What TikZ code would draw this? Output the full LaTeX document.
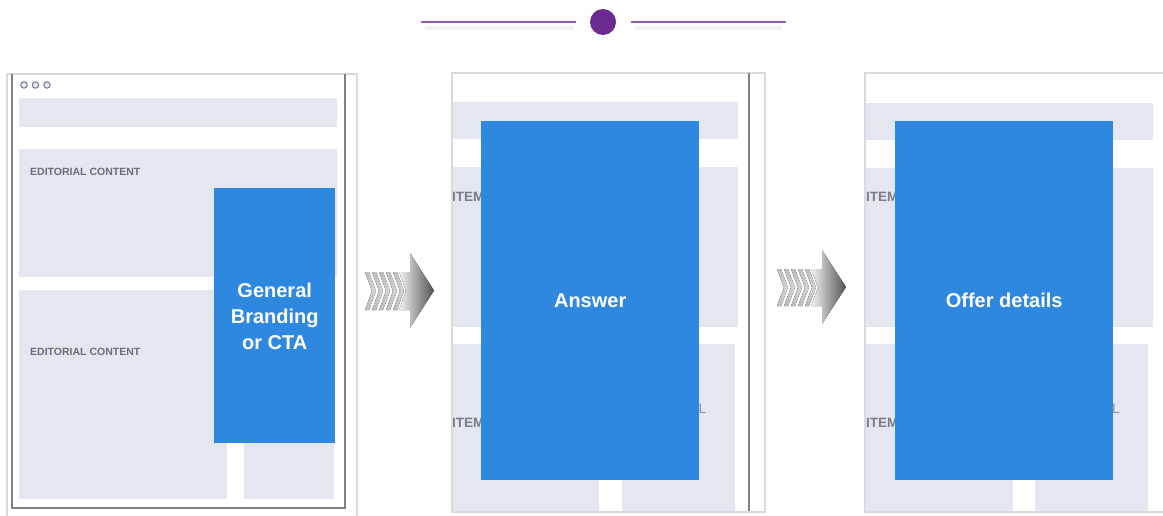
\documentclass[tikz,border=0pt]{standalone}
\usepackage{fontspec}
\setmainfont{Liberation Sans}
\definecolor{purpleline}{HTML}{9B59B6}
\definecolor{purpledot}{HTML}{6A2A8F}
\definecolor{panelgray}{HTML}{E4E7EF}
\definecolor{framelight}{HTML}{DADADA}
\definecolor{framedark}{HTML}{808088}
\definecolor{bluebox}{HTML}{2E88E0}
\definecolor{labelgray}{HTML}{6B6E7A}
\definecolor{dotblue}{HTML}{6A7390}
\tikzset{
  gbox/.style={fill=panelgray, draw=none, inner sep=0pt, anchor=north west},
  bbox/.style={fill=bluebox, draw=none, inner sep=0pt, anchor=north west, text=white,
    font=\fontsize{20}{26}\selectfont\bfseries, align=center},
  outerframe/.style={draw=framelight, line width=1.8pt},
  darkframe/.style={draw=framedark, line width=1.1pt},
  edlabel/.style={text=labelgray, font=\fontsize{10.5}{12}\selectfont\bfseries, inner sep=0pt, anchor=west},
  itemlabel/.style={text=labelgray!90, font=\fontsize{13.5}{14}\selectfont\bfseries, inner sep=0pt, anchor=west},
  faintlabel/.style={text=labelgray!75, font=\fontsize{14}{14}\selectfont, inner sep=0pt, anchor=east},
  winddot/.style={circle, draw=dotblue, fill=panelgray, line width=0.9pt, minimum size=6.5pt, inner sep=0pt},
  flowarrow/.style={left color=gray!10, right color=black!68, draw=none},
  chevstrip/.style={left color=gray!55, right color=gray!30, draw=none},
  topline/.style={draw=purpleline, line width=1.2pt},
  topshadow/.style={draw=black!5, line width=3.5pt},
}
\begin{document}
\begin{tikzpicture}[x=1pt,y=-1pt]
\useasboundingbox (0,0) rectangle (1163,516);
\fill[white] (0,0) rectangle (1163,516);

% top decoration
\coordinate (l1a) at (421,22); \coordinate (l1b) at (576,22);
\coordinate (l2a) at (631,22); \coordinate (l2b) at (786,22);
\coordinate (s1a) at (425,28); \coordinate (s1b) at (574,28);
\coordinate (s2a) at (635,28); \coordinate (s2b) at (782,28);
\draw[topshadow] (s1a) -- (s1b);
\draw[topshadow] (s2a) -- (s2b);
\draw[topline] (l1a) -- (l1b);
\draw[topline] (l2a) -- (l2b);
\node[circle, fill=purpledot, minimum size=26pt, inner sep=0pt] (dot) at (603,22) {};

% ---------- panel 1 ----------
\node[gbox, minimum width=318, minimum height=29] (p1bar) at (19,98) {};
\node[gbox, minimum width=318, minimum height=128] (p1ed1) at (19,149) {};
\node[gbox, minimum width=208, minimum height=209] (p1ed2) at (19,290) {};
\node[gbox, minimum width=90, minimum height=209] (p1side) at (244,290) {};
\node[edlabel] (p1t1) at (30,172) {EDITORIAL CONTENT};
\node[edlabel] (p1t2) at (30,352) {EDITORIAL CONTENT};
\node[bbox, minimum width=121, minimum height=253] (p1blue) at (214,190) {General\\Branding\\or CTA};
\fill[bluebox] (214,188) rectangle (335,191);
\draw[outerframe] (7,520) -- (7,74) -- (357,74) -- (357,520);
\draw[darkframe] (12,74) -- (12,508) -- (345,508) -- (345,74);
\node[winddot] (w1) at (24,85) {};
\node[winddot] (w2) at (35.5,85) {};
\node[winddot] (w3) at (47,85) {};

% ---------- arrow 1 ----------
\fill[flowarrow] (399,272) -- (410,272) -- (410,253) -- (434,290.5) -- (410,328) -- (410,310) -- (399,310) -- (406,291) -- cycle;
\foreach \cx in {365,372,379,386,393} {
  \fill[chevstrip] (\cx,272) -- (\cx+4,272) -- (\cx+11,291) -- (\cx+4,310) -- (\cx,310) -- (\cx+7,291) -- cycle;
}

% ---------- panel 2 ----------
\node[gbox, minimum width=286, minimum height=37] (p2bar) at (452,102) {};
\node[gbox, minimum width=286, minimum height=160] (p2a) at (452,167) {};
\node[gbox, minimum width=147, minimum height=168] (p2b) at (452,344) {};
\node[gbox, minimum width=113, minimum height=168] (p2c) at (622,344) {};
\node[itemlabel] (p2t1) at (452,197) {ITEM};
\node[itemlabel] (p2t2) at (452,423) {ITEM};
\node[faintlabel] (p2t3) at (706.5,409) {EDITORIAL};
\node[bbox, minimum width=218, minimum height=359] (p2blue) at (481,121) {Answer};
\draw[outerframe] (452,73) rectangle (765,512);
\draw[darkframe] (749,73) -- (749,511);

% ---------- arrow 2 ----------
\fill[flowarrow] (811,269) -- (822,269) -- (822,250) -- (846,287) -- (822,324) -- (822,306) -- (811,306) -- (818,287.5) -- cycle;
\foreach \cx in {777,784,791,798,805} {
  \fill[chevstrip] (\cx,269) -- (\cx+4,269) -- (\cx+11,287.5) -- (\cx+4,306) -- (\cx,306) -- (\cx+7,287.5) -- cycle;
}

% ---------- panel 3 ----------
\node[gbox, minimum width=287, minimum height=37] (p3bar) at (866,103) {};
\node[gbox, minimum width=287, minimum height=159] (p3a) at (866,168) {};
\node[gbox, minimum width=147, minimum height=167] (p3b) at (866,344) {};
\node[gbox, minimum width=113, minimum height=167] (p3c) at (1035,344) {};
\node[itemlabel] (p3t1) at (866,197) {ITEM};
\node[itemlabel] (p3t2) at (866,423) {ITEM};
\node[faintlabel] (p3t3) at (1120,409) {EDITORIAL};
\node[bbox, minimum width=218, minimum height=359] (p3blue) at (895,121) {Offer details};
\draw[outerframe] (865,73) rectangle (1175,512);
\end{tikzpicture}
\end{document}
